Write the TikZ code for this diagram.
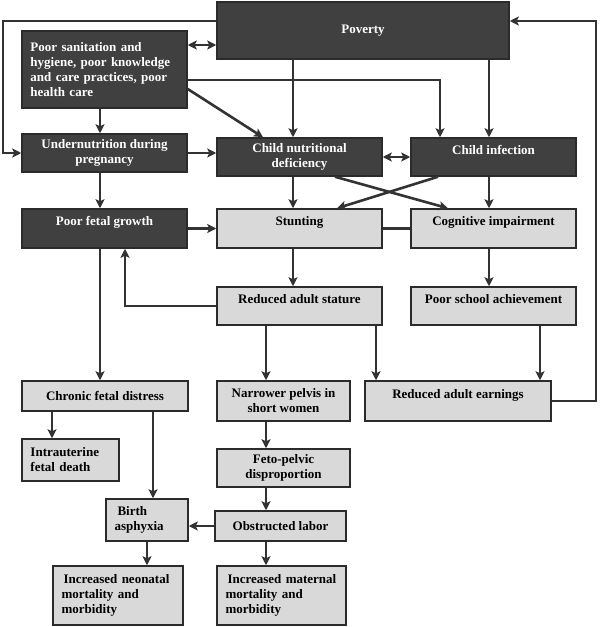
\documentclass[tikz,border=0pt]{standalone}
\usepackage{fontspec}
\setmainfont{Liberation Serif}
\usetikzlibrary{arrows.meta,calc}
\definecolor{boxdark}{HTML}{404040}
\definecolor{boxlight}{HTML}{D9D9D9}
\definecolor{edgec}{HTML}{2B2B2B}
\definecolor{linec}{HTML}{333333}
\begin{document}
\begin{tikzpicture}[x=1pt,y=-1pt,
    >={Stealth[length=9pt,width=9pt,inset=2pt]},
    every node/.style={font=\fontsize{13}{15}\selectfont\bfseries, inner ysep=2pt},
    dark/.style={draw=edgec, line width=1.5pt, fill=boxdark, text=white, align=center},
    light/.style={draw=edgec, line width=1.5pt, fill=boxlight, text=black, align=center},
    lalign/.style={align=left, inner xsep=8.5pt},
    hi/.style={text height=9pt, text depth=15pt},
    line/.style={draw=linec, line width=2.6pt},
    arr/.style={line, ->},
    dbl/.style={line, <->}]
    \useasboundingbox (0,0) rectangle (600,627);

    % rails and lanes
    \coordinate (railL) at (3,21);
    \coordinate (railR) at (596,21);
    \coordinate (laneA) at (100,0);
    \coordinate (laneB) at (293,0);
    \coordinate (laneC) at (489,0);
    \coordinate (laneD) at (266,0);
    \coordinate (laneE) at (376,0);
    \coordinate (laneF) at (540,0);

    % causes
    \node[dark, minimum width=292pt, minimum height=57pt] (poverty) at (363,30.5) {Poverty};
    \node[dark, lalign, text width=148pt, minimum height=77pt] (sanit) at (104.5,69.5)
        {Poor sanitation and\\ hygiene, poor knowledge\\ and care practices, poor\\ health care};
    \node[dark, minimum width=165pt, minimum height=38pt] (undernut) at (104.5,153) {Undernutrition during\\ pregnancy};
    \node[dark, minimum width=165pt, minimum height=38pt] (nutdef) at (299.5,157) {Child nutritional\\ deficiency};
    \node[dark, hi, minimum width=165pt, minimum height=38pt] (infect) at (493.5,157) {Child infection};
    \node[dark, hi, minimum width=165pt, minimum height=39pt] (fetal) at (104.5,228.5) {Poor fetal growth};

    % outcomes
    \node[light, hi, minimum width=165pt, minimum height=39pt] (stunt) at (299.5,228.5) {Stunting};
    \node[light, hi, minimum width=165pt, minimum height=39pt] (cognit) at (493.5,228.5) {Cognitive impairment};
    \node[light, hi, minimum width=165pt, minimum height=38pt] (stature) at (299.5,306) {Reduced adult stature};
    \node[light, hi, minimum width=165pt, minimum height=38pt] (school) at (493.5,306) {Poor school achievement};
    \node[light, minimum width=166pt, minimum height=30pt] (distress) at (105,396) {Chronic fetal distress};
    \node[light, lalign, text width=80pt, minimum height=42pt] (death) at (70.5,460) {Intrauterine\\ fetal death};
    \node[light, minimum width=133pt, minimum height=40pt] (pelvis) at (283.5,401) {Narrower pelvis in\\ short women};
    \node[light, hi, minimum width=186pt, minimum height=40pt] (earnings) at (458,401) {Reduced adult earnings};
    \node[light, minimum width=133pt, minimum height=38pt] (feto) at (283.5,468) {Feto-pelvic\\ disproportion};
    \node[light, minimum width=131pt, minimum height=30pt] (obstruct) at (280.5,526) {Obstructed labor};
    \node[light, lalign, text width=65pt, minimum height=42pt] (asphyx) at (147,520) {\hspace{3pt}Birth\\ asphyxia};
    \node[light, lalign, text width=113pt, minimum height=59pt] (neonatal) at (118,595.5)
        {\hspace{2pt}Increased neonatal\\ mortality and\\ morbidity};
    \node[light, lalign, text width=112pt, minimum height=59pt] (maternal) at (281.5,595.5)
        {\hspace{2pt}Increased maternal\\ mortality and\\ morbidity};

    % top level links
    \draw[arr] (poverty.west |- railL) -- (railL) |- (undernut.west);
    \draw[dbl] ($(sanit.east)+(0,-24.5)$) -- ($(poverty.west)+(0,14.5)$);
    \draw[arr] ($(sanit.east)+(0,10.5)$) -| ($(infect.north)+(-53.5,0)$);
    \draw[arr] ($(sanit.east)+(0,19.5)$) -- ($(nutdef.north)+(-36.5,0)$);
    \draw[arr] (poverty.south -| laneB) -- (nutdef.north -| laneB);
    \draw[arr] (poverty.south -| laneC) -- (infect.north -| laneC);
    \draw[arr] (sanit.south -| laneA) -- (undernut.north -| laneA);
    \draw[arr] (undernut.east) -- (nutdef.west |- undernut.east);
    \draw[arr] (undernut.south -| laneA) -- (fetal.north -| laneA);
    \draw[dbl] (nutdef.east) -- (infect.west);

    % child level
    \draw[arr] ($(nutdef.south)+(35.5,0)$) -- ($(cognit.north)+(-45.5,0)$);
    \draw[arr] ($(infect.south)+(-55.5,0)$) -- ($(stunt.north)+(37.5,0)$);
    \draw[arr] (nutdef.south -| laneB) -- (stunt.north -| laneB);
    \draw[arr] (infect.south -| laneC) -- (cognit.north -| laneC);
    \draw[arr] (fetal.east) -- (stunt.west);
    \draw[line] (stunt.east) -- (cognit.west);
    \draw[arr] (stunt.south -| laneB) -- (stature.north -| laneB);
    \draw[arr] (cognit.south -| laneC) -- (school.north -| laneC);
    \draw[arr] (stature.west) -| ($(fetal.south)+(20.5,0)$);

    % adult level
    \draw[arr] (fetal.south -| laneA) -- (distress.north -| laneA);
    \draw[arr] (stature.south -| laneD) -- (pelvis.north -| laneD);
    \draw[arr] (stature.south -| laneE) -- (earnings.north -| laneE);
    \draw[arr] (school.south -| laneF) -- (earnings.north -| laneF);
    \draw[arr] (earnings.east) -| (railR) -- (poverty.east |- railR);

    % birth level
    \draw[arr] ($(distress.south)+(-53,0)$) -- ($(death.north)+(-18.5,0)$);
    \draw[arr] ($(distress.south)+(48,0)$) -- ($(asphyx.north)+(6,0)$);
    \draw[arr] (pelvis.south -| laneD) -- (feto.north -| laneD);
    \draw[arr] (feto.south -| laneD) -- (obstruct.north -| laneD);
    \draw[arr] (obstruct.west) -- (asphyx.east |- obstruct.west);
    \draw[arr] (asphyx.south) -- (neonatal.north -| asphyx.south);
    \draw[arr] (obstruct.south -| laneD) -- (maternal.north -| laneD);
\end{tikzpicture}
\end{document}
